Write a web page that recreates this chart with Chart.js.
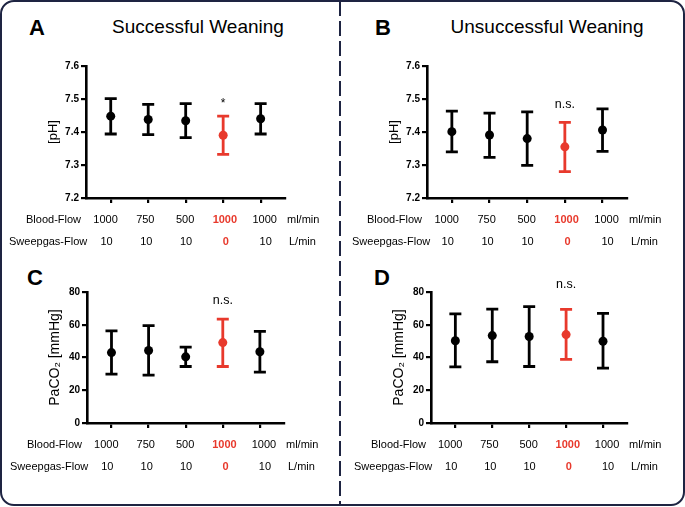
<!DOCTYPE html>
<html>
<head>
<meta charset="utf-8">
<script src="https://cdn.jsdelivr.net/npm/chart.js@4.4.1/dist/chart.umd.min.js"></script>
<style>
  body { margin: 0; background: #fff; font-family: "Liberation Sans", Arial, sans-serif; }
  #wrap { position: relative; width: 685px; height: 507px; overflow: hidden; }
  .frame { position: absolute; left: 0; top: 0; width: 685px; height: 506px; box-sizing: border-box;
           border: 2px solid #1e2442; border-radius: 14px; }
  .divider { position: absolute; left: 339px; top: 1px; width: 2px; height: 504px;
             background: repeating-linear-gradient(to bottom, #1e2442 0 15px, transparent 15px 20px); }
  canvas { position: absolute; }
  .letter { position: absolute; font-weight: bold; font-size: 22px; transform: translate(-50%, -50%); }
  .title { position: absolute; font-size: 19px; white-space: nowrap; transform: translate(-50%, -50%); }
</style>
</head>
<body>
<div id="wrap">
  <div class="frame"></div>
  <div class="divider"></div>
  <div class="letter" style="left:37px;top:28px">A</div>
  <div class="title" style="left:198px;top:27px">Successful Weaning</div>
  <div class="letter" style="left:383px;top:28px">B</div>
  <div class="title" style="left:547px;top:27px">Unsuccessful Weaning</div>
  <div class="letter" style="left:35px;top:278px">C</div>
  <div class="letter" style="left:382px;top:278px">D</div>
  <canvas id="cA" width="340" height="250" style="left:0;top:0"></canvas>
  <canvas id="cB" width="344" height="250" style="left:341px;top:0"></canvas>
  <canvas id="cC" width="340" height="257" style="left:0;top:250px"></canvas>
  <canvas id="cD" width="344" height="257" style="left:341px;top:250px"></canvas>
</div>
<script>
// settings per column
const bloodFlow = ['1000', '750', '500', '1000', '1000'];
const sweepFlow = ['10', '10', '10', '0', '10'];
const highlighted = [false, false, false, true, false];

// pH, successful weaning (mean and error range)
const phSuccessMean = [7.448, 7.438, 7.434, 7.390, 7.440];
const phSuccessLow  = [7.394, 7.392, 7.383, 7.332, 7.394];
const phSuccessHigh = [7.501, 7.484, 7.486, 7.448, 7.486];

// pH, unsuccessful weaning
const phFailMean = [7.401, 7.391, 7.380, 7.355, 7.406];
const phFailLow  = [7.340, 7.323, 7.299, 7.280, 7.341];
const phFailHigh = [7.463, 7.457, 7.461, 7.429, 7.470];

// PaCO2, successful weaning
const co2SuccessMean = [43.0, 44.3, 40.4, 49.1, 43.5];
const co2SuccessLow  = [29.8, 29.2, 34.5, 34.5, 31.1];
const co2SuccessHigh = [56.2, 59.5, 46.3, 63.4, 56.0];

// PaCO2, unsuccessful weaning
const co2FailMean = [50.2, 53.4, 52.8, 54.0, 49.9];
const co2FailLow  = [34.3, 37.4, 34.5, 38.8, 33.5];
const co2FailHigh = [66.6, 69.6, 71.1, 69.4, 67.0];

const phTicks = [7.2, 7.3, 7.4, 7.5, 7.6];
const co2Ticks = [0, 20, 40, 60, 80];

const FONT = '"Liberation Sans", Arial, sans-serif';
const RED = '#e8392c';

const errorBars = {
  id: 'errorBars',
  beforeDatasetsDraw(chart, args, opts) {
    const ctx = chart.ctx, xs = chart.scales.x, ys = chart.scales.y;
    ctx.save();
    ctx.lineWidth = 2.8;
    opts.low.forEach((lo, i) => {
      const px = xs.getPixelForValue(i + 1);
      const yl = ys.getPixelForValue(lo);
      const yh = ys.getPixelForValue(opts.high[i]);
      ctx.strokeStyle = highlighted[i] ? RED : '#000';
      ctx.beginPath();
      ctx.moveTo(px, yl); ctx.lineTo(px, yh);
      ctx.moveTo(px - 6, yl); ctx.lineTo(px + 6, yl);
      ctx.moveTo(px - 6, yh); ctx.lineTo(px + 6, yh);
      ctx.stroke();
    });
    ctx.restore();
  }
};

const flowTable = {
  id: 'flowTable',
  afterDraw(chart, args, opts) {
    const ctx = chart.ctx, xs = chart.scales.x, area = chart.chartArea;
    const row1 = area.bottom + 21.5, row2 = area.bottom + 43.5;
    ctx.save();
    ctx.fillStyle = '#000';
    ctx.textBaseline = 'middle';
    ctx.font = '11px ' + FONT;
    ctx.textAlign = 'left';
    ctx.fillText('Blood-Flow', area.left - 60, row1);
    ctx.fillText('Sweepgas-Flow', area.left - opts.sweepShift, row2);
    ctx.fillText('ml/min', area.right + 2, row1);
    ctx.fillText('L/min', area.right + 4, row2);
    ctx.textAlign = 'center';
    bloodFlow.forEach((b, i) => {
      const px = xs.getPixelForValue(i + 1) + (i - 2) * 2.3 - 0.6;
      ctx.fillStyle = highlighted[i] ? RED : '#000';
      ctx.font = (highlighted[i] ? 'bold ' : '') + '11px ' + FONT;
      ctx.fillText(b, px, row1);
      ctx.fillText(sweepFlow[i], px + 1, row2);
    });
    // significance mark above the highlighted column
    ctx.fillStyle = '#000';
    ctx.font = (opts.note === '*' ? '12px ' : '12.5px ') + FONT;
    ctx.fillText(opts.note, xs.getPixelForValue(4), chart.scales.y.getPixelForValue(opts.noteAt));
    ctx.restore();
  }
};

function makePanel(id, mean, low, high, ticks, yTitle, titleSize, padding, note, noteAt, sweepShift) {
  new Chart(document.getElementById(id), {
    type: 'scatter',
    data: {
      datasets: [{
        data: mean.map((v, i) => ({ x: i + 1, y: v })),
        pointRadius: 4.5,
        pointBorderWidth: 0,
        pointBackgroundColor: highlighted.map(h => h ? RED : '#000'),
        pointBorderColor: highlighted.map(h => h ? RED : '#000')
      }]
    },
    options: {
      responsive: false,
      animation: false,
      devicePixelRatio: 1,
      layout: { padding },
      plugins: {
        legend: { display: false },
        tooltip: { enabled: false },
        errorBars: { low, high },
        flowTable: { note, noteAt, sweepShift }
      },
      scales: {
        x: {
          type: 'linear', min: 0.34, max: 5.65,
          afterBuildTicks: s => { s.ticks = bloodFlow.map((b, i) => ({ value: i + 1 })); },
          afterFit: s => { s.height = 20; },
          ticks: { display: false },
          grid: { drawOnChartArea: false, tickLength: 5, color: '#000', lineWidth: 2.2 },
          border: { color: '#000', width: 2.6 }
        },
        y: {
          min: ticks[0], max: ticks[ticks.length - 1],
          afterBuildTicks: s => { s.ticks = ticks.map(v => ({ value: v })); },
          afterFit: s => { s.width = 40; },
          ticks: {
            callback: v => ticks[0] > 1 ? v.toFixed(1) : String(v),
            font: { family: FONT, size: 10, weight: 'bold' }, color: '#000', padding: 2
          },
          grid: { drawOnChartArea: false, tickLength: 5, color: '#000', lineWidth: 2.2 },
          border: { color: '#000', width: 2.6 },
          title: { display: true, text: yTitle, color: '#000', padding: 0, font: { family: FONT, size: titleSize } }
        }
      }
    },
    plugins: [errorBars, flowTable]
  });
}

makePanel('cA', phSuccessMean, phSuccessLow, phSuccessHigh, phTicks, '[pH]', 13,
  { left: 46, right: 55, top: 66, bottom: 32 }, '*', 7.485, 77);
makePanel('cB', phFailMean, phFailLow, phFailHigh, phTicks, '[pH]', 13,
  { left: 46, right: 58, top: 66, bottom: 32 }, 'n.s.', 7.482, 75);
makePanel('cC', co2SuccessMean, co2SuccessLow, co2SuccessHigh, co2Ticks, 'PaCO\u2082 [mmHg]', 14,
  { left: 47, right: 56, top: 42, bottom: 64 }, 'n.s.', 74.5, 77);
makePanel('cD', co2FailMean, co2FailLow, co2FailHigh, co2Ticks, 'PaCO\u2082 [mmHg]', 14,
  { left: 50, right: 58, top: 42, bottom: 64 }, 'n.s.', 84.3, 77);
</script>
</body>
</html>
